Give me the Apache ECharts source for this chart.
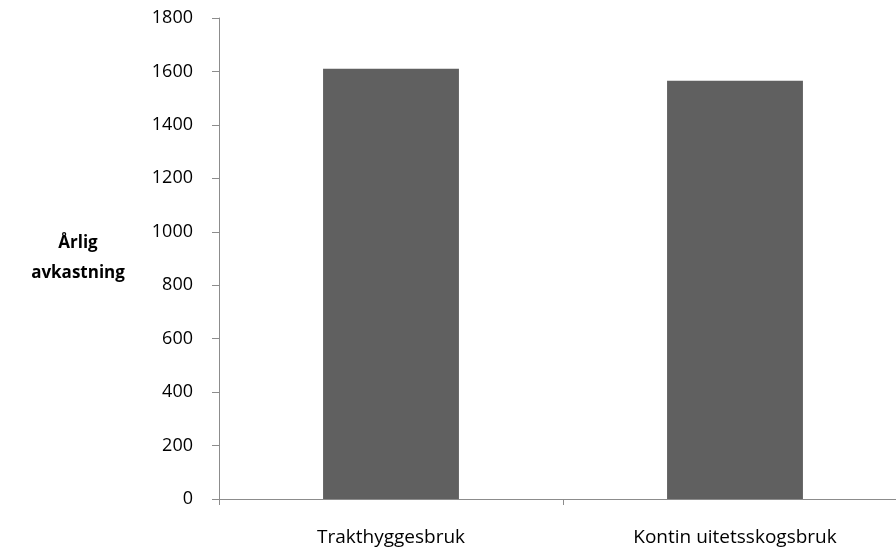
<!DOCTYPE html>
<html>
<head>
<meta charset="utf-8">
<script src="https://cdn.jsdelivr.net/npm/echarts@6/dist/echarts.min.js"></script>
<style>
  html, body { margin: 0; padding: 0; background: #fff; overflow: hidden; }
  /* the plot runs a little past the right edge of the window */
  #chart { width: 910px; height: 550px; }
</style>
</head>
<body>
<div id="chart"></div>
<script>
// Annual yield per forestry method
const categories = ['Trakthyggesbruk', 'Kontin uitetsskogsbruk'];
const yieldValues = [1610, 1565];
const yTicks = { min: 0, max: 1800, interval: 200 };
const yAxisTitle = 'Årlig\navkastning';

const chart = echarts.init(document.getElementById('chart'));
const font = '"Open Sans", "DejaVu Sans", sans-serif';
const axisGray = '#8c8c8c';
const textColor = '#000';

chart.setOption({
  animation: false,
  grid: { left: 219, top: 18, bottom: 51, right: 3, containLabel: false },
  xAxis: {
    type: 'category',
    data: categories,
    axisLine: { lineStyle: { color: axisGray, width: 1 } },
    axisTick: { show: true, alignWithLabel: false, length: 6, lineStyle: { color: axisGray } },
    axisLabel: { color: textColor, fontFamily: font, fontSize: 19, margin: 29 }
  },
  yAxis: {
    type: 'value',
    min: yTicks.min,
    max: yTicks.max,
    interval: yTicks.interval,
    name: yAxisTitle,
    nameLocation: 'middle',
    nameRotate: 0,
    nameGap: 141,
    nameTextStyle: { color: textColor, fontFamily: font, fontSize: 17, fontWeight: 'bold', align: 'center', lineHeight: 30 },
    axisLine: { show: true, lineStyle: { color: axisGray, width: 1 } },
    axisTick: { show: true, length: 7, lineStyle: { color: axisGray } },
    splitLine: { show: false },
    axisLabel: { color: textColor, fontFamily: font, fontSize: 18, margin: 26, formatter: v => String(v) }
  },
  series: [{
    type: 'bar',
    data: yieldValues,
    barWidth: '39.5%',
    itemStyle: { color: '#606060' }
  }]
});
</script>
</body>
</html>
